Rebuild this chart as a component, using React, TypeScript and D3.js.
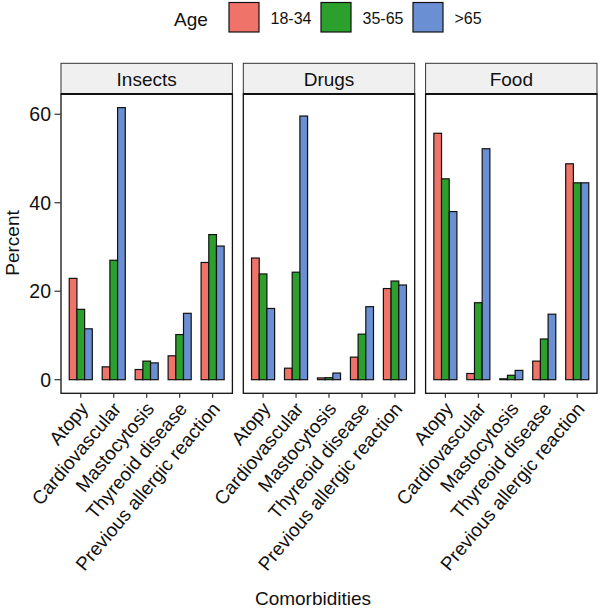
import * as d3 from "d3";

// comorbidity categories on the x axis of each facet
const categories = [
  "Atopy",
  "Cardiovascular",
  "Mastocytosis",
  "Thyreoid disease",
  "Previous allergic reaction",
];
const panels = ["Insects", "Drugs", "Food"];
const ages = ["18-34", "35-65", ">65"];
const ageColors = ["#F0736A", "#2CA02C", "#6B8FD3"];

// percent values per facet, one array per age group
const insects1834 = [22.9, 2.9, 2.3, 5.4, 26.5];
const insects3565 = [15.9, 27.0, 4.2, 10.2, 32.8];
const insects65 = [11.5, 61.5, 3.8, 15.0, 30.2];
const drugs1834 = [27.5, 2.6, 0.4, 5.1, 20.6];
const drugs3565 = [23.9, 24.3, 0.45, 10.3, 22.3];
const drugs65 = [16.1, 59.6, 1.5, 16.5, 21.4];
const food1834 = [55.7, 1.4, 0.2, 4.2, 48.8];
const food3565 = [45.4, 17.4, 1.0, 9.2, 44.5];
const food65 = [38.0, 52.2, 2.1, 14.8, 44.5];

const yTicks = [0, 20, 40, 60];

const seriesByPanel: Record<string, number[][]> = {
  Insects: [insects1834, insects3565, insects65],
  Drugs: [drugs1834, drugs3565, drugs65],
  Food: [food1834, food3565, food65],
};

const W = 600;
const H = 609;
const FONT = "'Liberation Sans', Arial, Helvetica, sans-serif";
const FS = 19;

export default function App() {
  const panelLeft = 61;
  const panelW = 171.4;
  const panelGap = 10.9;
  const stripTop = 63.3;
  const panelTop = 94;
  const panelBottom = 393.3;

  const maxV = d3.max(panels.flatMap((p) => seriesByPanel[p].flat()))!;
  const y = d3
    .scaleLinear()
    .domain([-0.05 * maxV, maxV * 1.05])
    .range([panelBottom, panelTop]);

  // discrete x: 0.6 units of padding each side, dodge width 0.7
  const x = d3
    .scaleBand<string>()
    .domain(categories)
    .range([0, panelW])
    .paddingInner(0.3)
    .paddingOuter(0.25);
  const sub = d3.scaleBand<string>().domain(ages).range([0, x.bandwidth()]);

  const legendKeyX = (i: number) => 229 + i * 92;

  return (
    <svg
      width={W}
      height={H}
      style={{ position: "absolute", left: 0, top: 0, background: "#fff" }}
      fontFamily={FONT}
    >
      {/* legend */}
      <text x={174} y={19} fontSize={FS} dominantBaseline="central" fill="#111">
        Age
      </text>
      {ages.map((a, i) => (
        <g key={a}>
          <rect
            x={legendKeyX(i)}
            y={2.5}
            width={30}
            height={29.5}
            fill={ageColors[i]}
            stroke="#111"
            strokeWidth={1.2}
          />
          <text
            x={legendKeyX(i) + 41.5}
            y={18}
            fontSize={16}
            dominantBaseline="central"
            fill="#111"
          >
            {a}
          </text>
        </g>
      ))}

      {panels.map((p, pi) => {
        const left = panelLeft + pi * (panelW + panelGap);
        const series = seriesByPanel[p];
        return (
          <g key={p}>
            {/* strip */}
            <rect
              x={left}
              y={stripTop}
              width={panelW}
              height={panelTop - stripTop}
              fill="#F0F0F0"
              stroke="#333"
              strokeWidth={1}
            />
            <text
              x={left + panelW / 2}
              y={86}
              textAnchor="middle"
              fontSize={FS}
              fill="#111"
            >
              {p}
            </text>

            {/* bars */}
            {categories.map((c, ci) =>
              ages.map((a, ai) => {
                const v = series[ai][ci];
                return (
                  <rect
                    key={`${c}-${a}`}
                    x={left + x(c)! + sub(a)!}
                    y={y(v)}
                    width={sub.bandwidth()}
                    height={y(0) - y(v)}
                    fill={ageColors[ai]}
                    stroke="#111"
                    strokeWidth={1.2}
                  />
                );
              }),
            )}

            {/* panel border */}
            <rect
              x={left}
              y={panelTop}
              width={panelW}
              height={panelBottom - panelTop}
              fill="none"
              stroke="#111"
              strokeWidth={1.3}
            />
            <line
              x1={left}
              x2={left + panelW}
              y1={panelTop}
              y2={panelTop}
              stroke="#111"
              strokeWidth={2}
            />

            {/* x ticks and labels */}
            {categories.map((c) => {
              const cx = left + x(c)! + x.bandwidth() / 2;
              return (
                <g key={c}>
                  <line
                    x1={cx}
                    x2={cx}
                    y1={panelBottom}
                    y2={panelBottom + 4.5}
                    stroke="#333"
                    strokeWidth={1.2}
                  />
                  <text
                    transform={`translate(${cx + 8.4},${panelBottom + 16}) rotate(-50)`}
                    textAnchor="end"
                    fontSize={FS}
                    fill="#111"
                  >
                    {c}
                  </text>
                </g>
              );
            })}
          </g>
        );
      })}

      {/* y axis */}
      {yTicks.map((t) => (
        <g key={t}>
          <line
            x1={panelLeft - 6.5}
            x2={panelLeft}
            y1={y(t)}
            y2={y(t)}
            stroke="#333"
            strokeWidth={1.2}
          />
          <text
            x={panelLeft - 10}
            y={y(t)}
            textAnchor="end"
            dominantBaseline="central"
            fontSize={FS + 0.5}
            fill="#111"
          >
            {t}
          </text>
        </g>
      ))}

      <text
        transform={`translate(18.5,243) rotate(-90)`}
        textAnchor="middle"
        fontSize={FS}
        fill="#111"
      >
        Percent
      </text>
      <text x={313} y={605} textAnchor="middle" fontSize={FS} fill="#111">
        Comorbidities
      </text>
    </svg>
  );
}
